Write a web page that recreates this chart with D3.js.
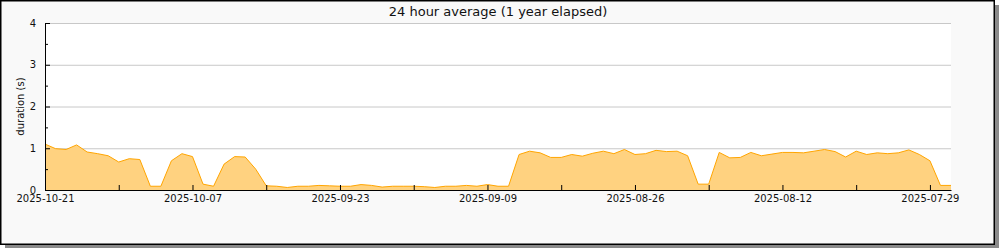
<!DOCTYPE html>
<html lang="en">
  <head>
    <meta charset="UTF-8" />
    <title>24 hour average</title>
    <script src="https://d3js.org/d3.v7.min.js"></script>
    <style>
      body { margin: 0; background: #fff; }
      text { font-family: "DejaVu Sans", sans-serif; fill: #111; }
    </style>
  </head>
  <body>
    <svg width="1000" height="250"></svg>
    <script>
      // one value per day, newest first (2025-10-21 going back)
      let startDay = "2025-10-21";
      let endDay = "2025-07-27";
      let values = [
        1.10, 0.99, 0.97, 1.08, 0.91, 0.87, 0.82, 0.67, 0.75, 0.73,
        0.09, 0.09, 0.70, 0.87, 0.80, 0.14, 0.09, 0.62, 0.80, 0.79,
        0.50, 0.10, 0.09, 0.06, 0.09, 0.09, 0.11, 0.10, 0.09, 0.09,
        0.13, 0.11, 0.07, 0.09, 0.09, 0.09, 0.08, 0.06, 0.09, 0.09,
        0.11, 0.09, 0.13, 0.09, 0.09, 0.85, 0.93, 0.89, 0.78, 0.78,
        0.85, 0.81, 0.88, 0.93, 0.87, 0.97, 0.85, 0.87, 0.95, 0.92,
        0.93, 0.82, 0.14, 0.14, 0.90, 0.77, 0.78, 0.90, 0.82, 0.86,
        0.90, 0.90, 0.89, 0.93, 0.97, 0.92, 0.79, 0.93, 0.85, 0.89,
        0.87, 0.89, 0.96, 0.85, 0.70, 0.11, 0.11,
      ];
      let xTicks = [
        "2025-10-21", "2025-10-14", "2025-10-07", "2025-09-30", "2025-09-23",
        "2025-09-16", "2025-09-09", "2025-09-02", "2025-08-26", "2025-08-19",
        "2025-08-12", "2025-08-05", "2025-07-29",
      ];
      let yTicks = [0, 1, 2, 3, 4];
      let yMinor = [0.5, 1.5, 2.5, 3.5];

      let parse = d3.utcParse("%Y-%m-%d");
      let start = parse(startDay);
      let data = values.map((v, i) => ({ date: d3.utcDay.offset(start, -i), v: v }));

      let svg = d3.select("svg");

      // frame with shadow
      svg.append("rect").attr("x", 5).attr("y", 5).attr("width", 994).attr("height", 243).attr("fill", "#8a8a8a");
      svg.append("rect").attr("x", 0.75).attr("y", 0.75).attr("width", 993.5).attr("height", 243.5)
        .attr("fill", "#f9f9f9").attr("stroke", "#000").attr("stroke-width", 1.5);

      let margin = { top: 23, left: 45 },
        width = 906,
        height = 167;

      let chart = svg.append("g").attr("transform", "translate(" + margin.left + "," + margin.top + ")");

      let xScale = d3.scaleUtc().domain([start, parse(endDay)]).range([0, width]);
      let yScale = d3.scaleLinear().domain([0, 4]).range([height, 0]);

      chart.append("rect").attr("width", width).attr("height", height).attr("fill", "#fff");

      // grid
      chart.selectAll(".grid").data(yTicks.slice(1)).enter().append("line")
        .attr("x1", 0).attr("x2", width)
        .attr("y1", (d) => yScale(d) + 0.5).attr("y2", (d) => yScale(d) + 0.5)
        .attr("stroke", "#c8c8c8");

      let area = d3.area()
        .x((d) => xScale(d.date))
        .y0(yScale(0))
        .y1((d) => yScale(d.v));
      let line = d3.line()
        .x((d) => xScale(d.date))
        .y((d) => yScale(d.v));

      chart.append("path").datum(data).attr("d", area).attr("fill", "#ffd280");
      chart.append("path").datum(data).attr("d", line).attr("fill", "none")
        .attr("stroke", "#ffa500").attr("stroke-width", 1);

      // y axis, ticks pointing inward
      let yAxis = chart.append("g")
        .call(d3.axisLeft(yScale).tickValues(yTicks).tickSize(-5).tickSizeOuter(0).tickPadding(9).tickFormat(d3.format("d")));
      chart.append("g")
        .call(d3.axisLeft(yScale).tickValues(yMinor).tickSize(-3).tickSizeOuter(0).tickFormat(""))
        .select(".domain").remove();

      // x axis
      let labelled = new Set(xTicks.filter((d, i) => i % 2 == 0));
      let fmt = d3.utcFormat("%Y-%m-%d");
      let xAxis = chart.append("g")
        .attr("transform", "translate(0," + height + ")")
        .call(d3.axisBottom(xScale).tickValues(xTicks.map(parse)).tickSize(-5).tickSizeOuter(0).tickPadding(5)
          .tickFormat((d) => (labelled.has(fmt(d)) ? fmt(d) : "")));

      chart.selectAll(".tick text").attr("font-size", 10).attr("font-family", "DejaVu Sans").attr("fill", "#111");
      chart.selectAll(".domain, .tick line").attr("stroke", "#000");

      svg.append("text")
        .attr("x", 498).attr("y", 15.5)
        .attr("text-anchor", "middle")
        .attr("font-size", 13)
        .text("24 hour average (1 year elapsed)");

      svg.append("text")
        .attr("transform", "translate(24," + (margin.top + height / 2) + ") rotate(-90)")
        .attr("text-anchor", "middle")
        .attr("font-size", 10)
        .text("duration (s)");
    </script>
  </body>
</html>
